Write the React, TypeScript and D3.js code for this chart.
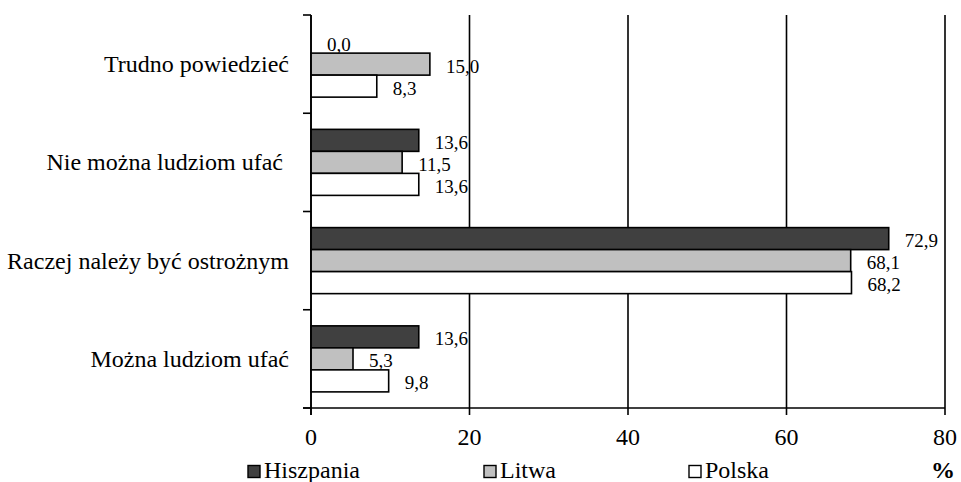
import { useEffect, useRef } from 'react';
import * as d3 from 'd3';

const categories = [
  'Trudno powiedzieć',
  'Nie można ludziom ufać ',
  'Raczej należy być ostrożnym',
  'Można ludziom ufać',
];
const seriesNames = ['Hiszpania', 'Litwa', 'Polska'];
const hiszpania = [0.0, 13.6, 72.9, 13.6];
const litwa = [15.0, 11.5, 68.1, 5.3];
const polska = [8.3, 13.6, 68.2, 9.8];
const xTicks = [0, 20, 40, 60, 80];
const seriesColors = ['#404040', '#c0c0c0', '#ffffff'];

const FONT = "'Liberation Serif', 'DejaVu Serif', serif";

export default function App() {
  const svgRef = useRef<SVGSVGElement>(null);

  useEffect(() => {
    if (!svgRef.current) return;
    const width = 961;
    const height = 482;
    const left = 311;
    const right = 945;
    const top = 15;
    const bottom = 408;

    const svg = d3.select(svgRef.current);
    svg.selectAll('*').remove();
    svg.attr('viewBox', `0 0 ${width} ${height}`).style('font-family', FONT);

    const x = d3.scaleLinear().domain([0, 80]).range([left, right]);
    const y = d3.scaleBand<string>()
      .domain(categories)
      .range([top, bottom])
      .paddingInner(0.328)
      .paddingOuter(0.164);
    const inner = d3.scaleBand<string>()
      .domain(seriesNames)
      .range([0, y.bandwidth()]);

    const series = [hiszpania, litwa, polska];
    const fmt = (v: number) => d3.format('.1f')(v).replace('.', ',');

    // gridlines (with tick stubs below the axis)
    svg.append('g')
      .selectAll('line')
      .data(xTicks)
      .enter()
      .append('line')
      .attr('x1', (d) => x(d)).attr('x2', (d) => x(d))
      .attr('y1', top)
      .attr('y2', bottom + 7)
      .attr('stroke', '#000')
      .attr('stroke-width', 1.6);

    // bottom axis line
    svg.append('line')
      .attr('x1', left - 8).attr('x2', right)
      .attr('y1', bottom).attr('y2', bottom)
      .attr('stroke', '#000').attr('stroke-width', 1.6);

    // left tick marks at band boundaries
    const boundaries = categories.map((c) => y(c)! - (y.step() - y.bandwidth()) / 2);
    boundaries.push(bottom);
    svg.append('g')
      .selectAll('line')
      .data(boundaries)
      .enter()
      .append('line')
      .attr('x1', left - 8).attr('x2', left)
      .attr('y1', (d) => d).attr('y2', (d) => d)
      .attr('stroke', '#000').attr('stroke-width', 1.6);

    // bars + value labels
    series.forEach((vals, si) => {
      const g = svg.append('g');
      g.selectAll('rect')
        .data(vals)
        .enter()
        .append('rect')
        .attr('x', x(0))
        .attr('y', (_, i) => y(categories[i])! + inner(seriesNames[si])!)
        .attr('width', (d) => x(d) - x(0))
        .attr('height', inner.bandwidth())
        .attr('fill', seriesColors[si])
        .attr('stroke', '#000')
        .attr('stroke-width', 1.6);

      g.selectAll('text')
        .data(vals)
        .enter()
        .append('text')
        .attr('x', (d) => x(d) + 16)
        .attr('y', (_, i) => y(categories[i])! + inner(seriesNames[si])! + inner.bandwidth() / 2 + 2)
        .attr('dominant-baseline', 'central')
        .attr('font-size', 19)
        .attr('fill', '#000')
        .text((d) => fmt(d));
    });

    // left axis line over the bars
    svg.append('line')
      .attr('x1', left).attr('x2', left)
      .attr('y1', top).attr('y2', bottom + 7)
      .attr('stroke', '#000').attr('stroke-width', 1.6);

    // category labels
    svg.append('g')
      .selectAll('text')
      .data(categories)
      .enter()
      .append('text')
      .attr('x', 289)
      .attr('y', (d) => y(d)! + y.bandwidth() / 2)
      .attr('text-anchor', 'end')
      .attr('dominant-baseline', 'central')
      .attr('font-size', 24)
      .style('white-space', 'pre')
      .text((d) => d);

    // x tick labels
    svg.append('g')
      .selectAll('text')
      .data(xTicks)
      .enter()
      .append('text')
      .attr('x', (d) => x(d))
      .attr('y', 437)
      .attr('text-anchor', 'middle')
      .attr('dominant-baseline', 'central')
      .attr('font-size', 24)
      .text((d) => String(d));

    // legend
    const legendX = [248, 484, 689];
    const lg = svg.append('g');
    seriesNames.forEach((name, i) => {
      lg.append('rect')
        .attr('x', legendX[i]).attr('y', 465.5)
        .attr('width', 12).attr('height', 12)
        .attr('fill', seriesColors[i])
        .attr('stroke', '#000').attr('stroke-width', 1.4);
      lg.append('text')
        .attr('x', legendX[i] + 16)
        .attr('y', 478)
        .attr('font-size', 24)
        .text(name);
    });
    lg.append('text')
      .attr('x', 955)
      .attr('y', 478)
      .attr('text-anchor', 'end')
      .attr('font-size', 24)
      .attr('font-weight', 'bold')
      .text('%');
  }, []);

  return (
    <svg
      ref={svgRef}
      width={961}
      height={482}
      style={{ position: 'absolute', left: 0, top: 0, background: '#fff' }}
    />
  );
}
